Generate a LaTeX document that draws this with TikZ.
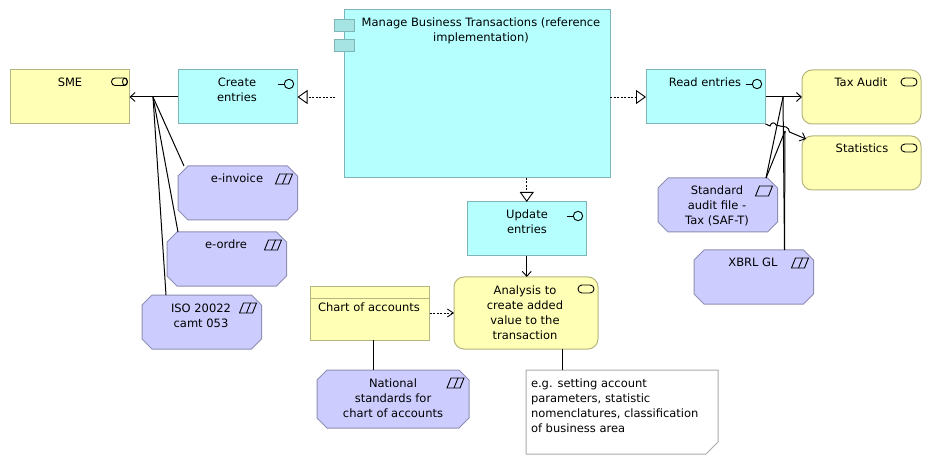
\documentclass[tikz,border=0pt]{standalone}
\usepackage{fontspec}
\setmainfont{DejaVu Sans}
\usetikzlibrary{arrows.meta,calc}
\definecolor{cyanfill}{HTML}{B5FFFF}
\definecolor{cyanline}{HTML}{7FB5B5}
\definecolor{cyandark}{HTML}{A6E3E3}
\definecolor{yelfill}{HTML}{FFFFB5}
\definecolor{yelline}{HTML}{B5B57F}
\definecolor{lavfill}{HTML}{CCCCFF}
\definecolor{lavline}{HTML}{8F8FB3}
\definecolor{noteline}{HTML}{ABABAB}
\tikzset{
  x=1pt,y=-1pt,
  base/.style={anchor=north west,inner sep=0,outer sep=0,line width=1pt,minimum width=119.5pt,minimum height=54pt,rectangle},
  cyanbox/.style={base,draw=cyanline,fill=cyanfill},
  yelbox/.style={base,draw=yelline,fill=yelfill},
  svcbox/.style={yelbox,rounded corners=10pt},
  octbox/.style={base},
  octline/.style={line width=1pt,draw=lavline,fill=lavfill},
  noteoutline/.style={line width=1pt,draw=noteline,fill=white},
  txt/.style={anchor=north,inner sep=0,outer sep=0,align=center,text height=9pt,text depth=3pt,font=\fontsize{11.5}{15}\selectfont},
  conn/.style={line width=1pt,draw=black},
  flow/.style={conn,-{Straight Barb[length=5pt,width=9pt,line width=.9pt]}},
  dep/.style={conn,line width=.8pt,dash pattern=on 2pt off 1.5pt,-{Straight Barb[length=6pt,width=8pt,line width=.8pt]}},
  real/.style={conn,line width=.8pt,dash pattern=on 2pt off 1.5pt,-{Triangle[open,length=10pt,width=14pt,fill=white,line width=.9pt]}},
  ico/.style={line width=.9pt,draw=black},
}
\newcommand{\octo}[1]{\draw[octline] ($(#1.north west)+(10,0)$) -- ($(#1.north east)+(-10,0)$) -- ($(#1.north east)+(0,10)$) -- ($(#1.south east)+(0,-10)$) -- ($(#1.south east)+(-10,0)$) -- ($(#1.south west)+(10,0)$) -- ($(#1.south west)+(0,-10)$) -- ($(#1.north west)+(0,10)$) -- cycle;}
\newcommand{\lolli}[1]{\begin{scope}[shift={(#1.north east)}]
  \draw[ico] (-20,14)--(-13,14); \draw[ico] (-8.5,14) circle[radius=4.7];\end{scope}}
\newcommand{\pillico}[1]{\begin{scope}[shift={(#1.east |- #1.north)}]
  \draw[ico,rounded corners=3.9pt] (-20,8) rectangle (-4,16);\end{scope}}
\newcommand{\actorico}[1]{\begin{scope}[shift={(#1.north east)}]
  \draw[ico,rounded corners=3.6pt] (-18,8) rectangle (-2,15.5);
  \draw[ico] (-4.6,11.7) ellipse[x radius=2.4,y radius=3.7];\end{scope}}
\newcommand{\paraico}[1]{\begin{scope}[shift={(#1.north east)}]
  \draw[ico] (-22,18)--(-18,8)--(-5,8)--(-9,18)--cycle;\draw[ico] (-15,18)--(-11,8);\end{scope}}
\newcommand{\plainpara}[1]{\begin{scope}[shift={(#1.north east)}]
  \draw[ico] (-22,18)--(-18,8)--(-5,8)--(-9,18)--cycle;\end{scope}}
\begin{document}
\begin{tikzpicture}
\useasboundingbox (0,0) rectangle (932,465);
\fill[white] (0,0) rectangle (932,465);
% boxes
\node[yelbox] (sme) at (10,70) {};
\node[cyanbox] (create) at (178,70) {};
\node[cyanbox,minimum width=266pt,minimum height=168pt] (mbt) at (344,10) {};
\node[cyanbox] (read) at (646,70) {};
\node[svcbox,minimum width=119pt] (tax) at (802,70) {};
\node[svcbox,minimum width=119pt] (stat) at (802,136) {};
\node[octbox] (einv) at (178,166) {};
\node[octbox] (eord) at (167,232) {};
\node[octbox] (iso) at (142,295) {};
\node[octbox] (saf) at (658,178) {};
\node[octbox] (xbrl) at (694,250) {};
\node[cyanbox] (update) at (467,202) {};
\node[svcbox,minimum width=144pt,minimum height=72pt] (analysis) at (454,277) {};
\node[yelbox] (chart) at (310,286) {};
\node[octbox,minimum width=152pt,minimum height=58pt] (natl) at (317,370) {};
\node[base,minimum width=192pt,minimum height=84pt] (note) at (526,370) {};
\octo{einv}\octo{eord}\octo{iso}\octo{saf}\octo{xbrl}\octo{natl}
\draw[noteoutline] (note.north west) -- (note.north east) -- ($(note.south east)+(0,-12)$) -- ($(note.south east)+(-12,0)$) -- (note.south west) -- cycle;
% component tabs
\node[base,draw=cyanline,fill=cyandark,minimum width=20pt,minimum height=12pt] (tabA) at (334,20) {};
\node[base,draw=cyanline,fill=cyandark,minimum width=20pt,minimum height=12pt] (tabB) at (334,40) {};
% chart header
\coordinate (chl) at ($(chart.north west)+(0,12)$);
\coordinate (chr) at ($(chart.north east)+(0,12)$);
\draw[yelline,line width=1pt] (chl) -- (chr);
% icons
\actorico{sme}\lolli{create}\lolli{read}\lolli{update}
\pillico{tax}\pillico{stat}\pillico{analysis}
\paraico{einv}\paraico{eord}\paraico{iso}\paraico{xbrl}\paraico{natl}\plainpara{saf}
% connector points
\coordinate (jl) at (153,97);
\coordinate (jr) at (783,97);
\coordinate (jq) at (785,131);
\coordinate (einvT) at ($(einv.north west)+(6,0)$);
\coordinate (eordT) at ($(eord.north west)+(11,0)$);
\coordinate (isoT) at ($(iso.north west)+(24,0)$);
\coordinate (safT) at ($(saf.north west)+(108,0)$);
\coordinate (xbrlT) at ($(xbrl.north west)+(90.5,0)$);
\coordinate (chartB) at ($(chart.south west)+(63,0)$);
\coordinate (analysisB) at ($(analysis.south west)+(108,0)$);
\coordinate (statIn) at (806,139);
% connectors
\draw[flow] (create.west |- jl) -- (sme.east |- jl);
\draw[conn] (jl) -- (einvT);
\draw[conn] (jl) -- (eordT);
\draw[conn] (jl) -- (isoT);
\draw[real] ($(mbt.west |- jl)+(-9,0)$) -- (create.east |- jl);
\draw[real] (mbt.east |- jl) -- (read.west |- jl);
\draw[real] (update.north |- mbt.south) -- (update.north);
\draw[flow] (read.east |- jr) -- (tax.west |- jr);
\draw[flow] (read.south east) -- (770,126) .. controls (771,122) and (775,122) .. (776,125) -- (780,126) -- (786,127) .. controls (788,127) and (789,130) .. (789.5,132) -- (statIn);
\draw[conn] (jr) -- (safT);
\draw[conn] (jq) -- (safT);
\draw[conn] (jr) -- (xbrlT);
\draw[conn] (jq) -- (xbrlT);
\draw[flow] (update.south) -- (update.south |- analysis.north);
\draw[dep] (chart.east |- analysis.west) -- (analysis.west);
\draw[conn] (chartB) -- (chartB |- natl.north);
\draw[conn] (analysisB) -- (analysisB |- note.north);
% labels
\node[txt] (tSme) at (70,78) {SME};
\node[txt] (tCreate) at (237,93) {Create\\entries};
\node[txt] (tMbt) at (481,33) {Manage Business Transactions (reference\\implementation)};
\node[txt] (tRead) at (705,78) {Read entries};
\node[txt] (tTax) at (861,78) {Tax Audit};
\node[txt] (tStat) at (862,144) {Statistics};
\node[txt] (tEinv) at (237,174) {e-invoice};
\node[txt] (tEord) at (226,240) {e-ordre};
\node[txt] (tIso) at (201,318) {ISO 20022\\camt 053};
\node[txt] (tSaf) at (717,216) {Standard\\audit file -\\Tax (SAF-T)};
\node[txt] (tXbrl) at (753,258) {XBRL GL};
\node[txt] (tUpd) at (527,225) {Update\\entries};
\node[txt] (tAna) at (525,330) {Analysis to\\create added\\value to the\\transaction};
\node[txt] (tChart) at (369,302) {Chart of accounts};
\node[txt] (tNat) at (393,408) {National\\standards for\\chart of accounts};
\node[txt,anchor=north west,align=left] (tNote) at (531,423) {e.g. setting account\\parameters, statistic\\nomenclatures, classification\\of business area};
\end{tikzpicture}
\end{document}
